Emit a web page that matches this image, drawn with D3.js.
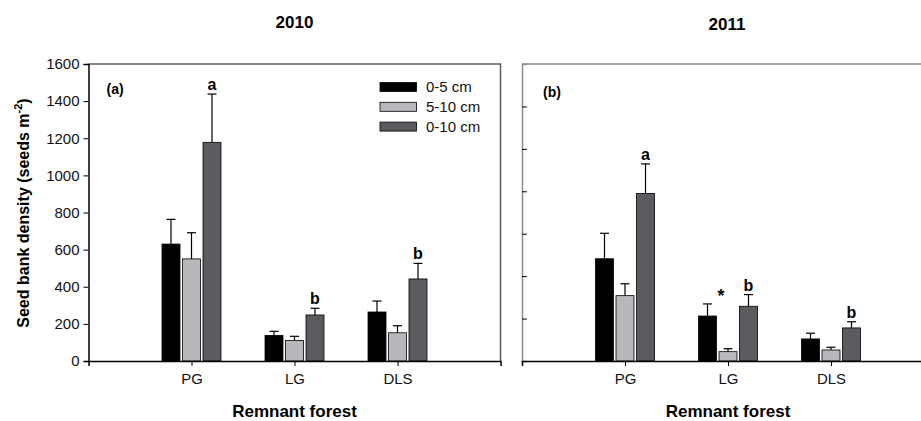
<!DOCTYPE html>
<html>
<head>
<meta charset="utf-8">
<script src="https://cdn.jsdelivr.net/npm/d3@7"></script>
<style>
  body { margin: 0; background: #fff; overflow: hidden; }
  text { font-family: "Liberation Sans", Arial, sans-serif; }
</style>
</head>
<body>
<svg id="chart" width="921" height="421"></svg>
<script>
// categories and series
const categories = ['PG', 'LG', 'DLS'];
const depths = ['0-5 cm', '5-10 cm', '0-10 cm'];
const colors = ['#000000', '#b7b8bb', '#5b5c60'];

// 2010 means and upper error values (seeds m-2)
const mean2010_0_5 = [630, 138, 264];
const mean2010_5_10 = [550, 111, 152];
const mean2010_0_10 = [1178, 248, 442];
const err2010_0_5 = [763, 160, 323];
const err2010_5_10 = [691, 133, 190];
const err2010_0_10 = [1438, 284, 526];
const letters2010 = ['a', 'b', 'b'];

// 2011 means and upper error values
const mean2011_0_5 = [482, 212, 104];
const mean2011_5_10 = [308, 44, 52];
const mean2011_0_10 = [790, 258, 156];
const err2011_0_5 = [602, 269, 131];
const err2011_5_10 = [364, 58, 65];
const err2011_0_10 = [929, 313, 185];
const letters2011 = ['a', 'b', 'b'];
const star2011 = ['', '*', ''];

const yTicks2010 = [0, 200, 400, 600, 800, 1000, 1200, 1400, 1600];
const yTicks2011 = [0, 200, 400, 600, 800, 1000, 1200, 1400];

const svg = d3.select('#chart');

function drawPanel(cfg) {
  const w = 412, h = 297;
  const g = svg.append('g').attr('transform', `translate(${cfg.left},64)`);

  const x = d3.scaleLinear().domain([0, 4]).range([0, w]);
  const y = d3.scaleLinear().domain(cfg.yDomain).range([h, 0]);

  // frame (top/right)
  g.append('path')
      .attr('d', `M0,0H${w}V${h}`)
      .attr('fill', 'none')
      .attr('stroke', cfg.frameColor)
      .attr('stroke-width', 1.5);

  // y axis
  const yAxis = cfg.showYLabels
    ? d3.axisLeft(y).tickValues(cfg.yTicks).tickSize(5).tickPadding(4).tickFormat(d3.format('d'))
    : d3.axisRight(y).tickValues(cfg.yTicks.slice(1, -1)).tickSize(5).tickFormat('');
  const yG = g.append('g').call(yAxis);
  yG.select('.domain').attr('stroke', cfg.showYLabels ? '#000' : cfg.frameColor).attr('stroke-width', 1.5);
  yG.selectAll('.tick line').attr('stroke', '#000');
  yG.selectAll('.tick text').style('font-size', '15px').attr('fill', '#111');

  // bars
  const rows = [];
  categories.forEach((c, i) => {
    cfg.means.forEach((m, j) => {
      rows.push({ i, j, mean: m[i], err: cfg.errs[j][i] });
    });
  });
  const step = 20.5, bw = 18;
  const bx = d => x(d.i + 1) + (d.j - 1) * step - bw / 2;

  // error bars
  const eb = g.append('g');
  eb.selectAll('line.v').data(rows).join('line')
      .attr('x1', d => bx(d) + bw / 2).attr('x2', d => bx(d) + bw / 2)
      .attr('y1', d => y(d.mean)).attr('y2', d => y(d.err))
      .attr('stroke', '#000').attr('stroke-width', 1.2);
  eb.selectAll('line.c').data(rows).join('line')
      .attr('x1', d => bx(d) + bw / 2 - 4.5).attr('x2', d => bx(d) + bw / 2 + 4.5)
      .attr('y1', d => y(d.err)).attr('y2', d => y(d.err))
      .attr('stroke', '#000').attr('stroke-width', 1.2);

  g.append('g').selectAll('rect').data(rows).join('rect')
      .attr('x', bx)
      .attr('y', d => y(d.mean))
      .attr('width', bw)
      .attr('height', d => h - y(d.mean))
      .attr('fill', d => colors[d.j])
      .attr('stroke', '#000')
      .attr('stroke-width', 0.8);

  // letters above 0-10 cm bars
  const top = rows.filter(d => d.j === 2);
  g.append('g').selectAll('text').data(top).join('text')
      .attr('x', d => bx(d) + bw / 2)
      .attr('y', d => y(d.err) - 4)
      .attr('text-anchor', 'middle')
      .style('font-size', '16px').style('font-weight', 'bold')
      .text(d => cfg.letters[d.i]);

  if (cfg.stars) {
    const mid = rows.filter(d => d.j === 1 && cfg.stars[d.i]);
    g.append('g').selectAll('text').data(mid).join('text')
        .attr('x', d => bx(d) + bw / 2 - 7)
        .attr('y', d => y(d.err) - 47)
        .attr('text-anchor', 'middle')
        .style('font-size', '18px').style('font-weight', 'bold')
        .text(d => cfg.stars[d.i]);
  }

  // x axis
  const xAxis = d3.axisBottom(x).tickValues([1, 2, 3]).tickSize(5).tickPadding(7)
      .tickFormat(d => categories[d - 1]);
  const xG = g.append('g').attr('transform', `translate(0,${h})`).call(xAxis);
  xG.select('.domain').attr('stroke', '#000').attr('stroke-width', 1.5);
  xG.selectAll('.tick text').style('font-size', '15px').attr('fill', '#111');

  g.append('text')
      .attr('x', w / 2).attr('y', h + 56)
      .attr('text-anchor', 'middle')
      .style('font-size', '17px').style('font-weight', 'bold')
      .text('Remnant forest');

  g.append('text')
      .attr('x', cfg.title.x).attr('y', cfg.title.y - 64)
      .attr('text-anchor', 'middle')
      .style('font-size', '17px').style('font-weight', 'bold')
      .text(cfg.title.text);

  g.append('text')
      .attr('x', cfg.tag.x).attr('y', cfg.tag.y)
      .style('font-size', '14px').style('font-weight', 'bold')
      .text(cfg.tag.text);

  return g;
}

const left = drawPanel({
  left: 88.5,
  yDomain: [0, 1600],
  yTicks: yTicks2010,
  showYLabels: true,
  frameColor: '#5e5e5e',
  means: [mean2010_0_5, mean2010_5_10, mean2010_0_10],
  errs: [err2010_0_5, err2010_5_10, err2010_0_10],
  letters: letters2010,
  title: { text: '2010', x: 206, y: 28 },
  tag: { text: '(a)', x: 18, y: 30 }
});

drawPanel({
  left: 522,
  yDomain: [0, 1400],
  yTicks: yTicks2011,
  showYLabels: false,
  frameColor: '#8a8a8a',
  means: [mean2011_0_5, mean2011_5_10, mean2011_0_10],
  errs: [err2011_0_5, err2011_5_10, err2011_0_10],
  letters: letters2011,
  stars: star2011,
  title: { text: '2011', x: 205, y: 30 },
  tag: { text: '(b)', x: 21, y: 33 }
});

// legend in left panel
const legend = left.append('g').attr('transform', 'translate(291.5,18.5)');
depths.forEach((d, j) => {
  const row = legend.append('g').attr('transform', `translate(0,${j * 19.8})`);
  row.append('rect').attr('width', 36.5).attr('height', 9)
      .attr('fill', colors[j]).attr('stroke', '#000').attr('stroke-width', 0.8);
  row.append('text').attr('x', 46).attr('y', 9.5)
      .style('font-size', '15px').attr('fill', '#111').text(d);
});

// y axis title
svg.append('text')
    .attr('transform', 'translate(29,213) rotate(-90)')
    .attr('text-anchor', 'middle')
    .style('font-size', '16px').style('font-weight', 'bold')
    .html('Seed bank density (seeds m<tspan dy="-7" font-size="11px">-2</tspan><tspan dy="7">)</tspan>');
</script>
</body>
</html>
